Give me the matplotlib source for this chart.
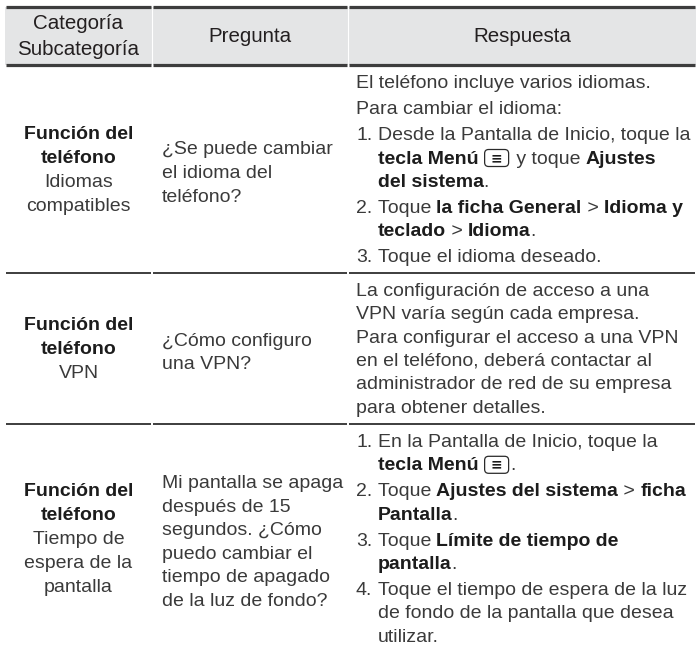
import matplotlib
matplotlib.use("Agg")
import matplotlib.pyplot as plt
from matplotlib.font_manager import FontProperties
from matplotlib.patches import FancyBboxPatch, Rectangle

FONT = "Liberation Sans"
BODY_SIZE = 14.0
HEAD_SIZE = 14.8
TEXT_COLOR = "#3a3a3a"
BOLD_COLOR = "#1c1c1c"
RULE_COLOR = "#3d3d3d"
HEADER_BG = "#e4e5e6"

COL_EDGES = [5, 152, 348, 696]
ROW_EDGES = [7, 65, 273, 424, 652]

HEADER_LABELS = [["Categoría", "Subcategoría"], ["Pregunta"], ["Respuesta"]]

CATEGORY = ["Función del", "teléfono"]
SUBCATEGORIES = [
    ["Idiomas", "compatibles"],
    ["VPN"],
    ["Tiempo de", "espera de la", "pantalla"],
]

QUESTIONS = [
    ["¿Se puede cambiar", "el idioma del", "teléfono?"],
    ["¿Cómo configuro", "una VPN?"],
    ["Mi pantalla se apaga", "después de 15", "segundos. ¿Cómo",
     "puedo cambiar el", "tiempo de apagado", "de la luz de fondo?"],
]

# ** marks bold runs, {menu} is the menu key icon
ANSWERS = [
    [
        (None, ["El teléfono incluye varios idiomas."]),
        (None, ["Para cambiar el idioma:"]),
        ("1.", ["Desde la Pantalla de Inicio, toque la",
                "**tecla Menú** {menu} y toque **Ajustes**",
                "**del sistema**."]),
        ("2.", ["Toque **la ficha General** > **Idioma y**",
                "**teclado** > **Idioma**."]),
        ("3.", ["Toque el idioma deseado."]),
    ],
    [
        (None, ["La configuración de acceso a una",
                "VPN varía según cada empresa.",
                "Para configurar el acceso a una VPN",
                "en el teléfono, deberá contactar al",
                "administrador de red de su empresa",
                "para obtener detalles."]),
    ],
    [
        ("1.", ["En la Pantalla de Inicio, toque la",
                "**tecla Menú** {menu}."]),
        ("2.", ["Toque **Ajustes del sistema** > **ficha**",
                "**Pantalla**."]),
        ("3.", ["Toque **Límite de tiempo de**",
                "**pantalla**."]),
        ("4.", ["Toque el tiempo de espera de la luz",
                "de fondo de la pantalla que desea",
                "utilizar."]),
    ],
]

CELL_LH = 24
ANS_LH = 23.3
PARA_GAP = 2.8

fig = plt.figure(figsize=(6.96, 6.52), dpi=100)
ax = fig.add_axes([0, 0, 1, 1])
ax.set_xlim(0, 696)
ax.set_ylim(652, 0)
ax.axis("off")
renderer = fig.canvas.get_renderer()


def text_width(s, bold=False, size=BODY_SIZE):
    prop = FontProperties(family=FONT, weight="bold" if bold else "normal", size=size)
    w1, _, _ = renderer.get_text_width_height_descent("x" + s + "x", prop, ismath=False)
    w0, _, _ = renderer.get_text_width_height_descent("xx", prop, ismath=False)
    return w1 - w0


def parse(line):
    parts = []
    for i, chunk in enumerate(line.split("**")):
        bold = i % 2 == 1
        for j, piece in enumerate(chunk.split("{menu}")):
            if j > 0:
                parts.append(("{menu}", bold))
            if piece:
                parts.append((piece, bold))
    return parts


def menu_icon(x, y):
    w, h = 24, 17
    ax.add_patch(FancyBboxPatch((x + 1, y - 14), w, h,
                                boxstyle="round,pad=0,rounding_size=4",
                                fc="white", ec="#2a2a2a", lw=0.9))
    ax.text(x + 1 + w / 2, y - 14 + h / 2, "≡", family="DejaVu Sans",
            weight="bold", fontsize=10, ha="center", va="center", color="#1c1c1c")
    return w + 3


def rich_line(x, y, line):
    for seg, bold in parse(line):
        if seg == "{menu}":
            x += menu_icon(x, y)
            continue
        ax.text(x, y, seg, family=FONT, fontsize=BODY_SIZE,
                weight="bold" if bold else "normal",
                color=BOLD_COLOR if bold else TEXT_COLOR,
                ha="left", va="baseline")
        x += text_width(seg, bold)


# header band
ax.add_patch(Rectangle((COL_EDGES[0], ROW_EDGES[0]), COL_EDGES[-1] - COL_EDGES[0],
                       ROW_EDGES[1] - ROW_EDGES[0], fc=HEADER_BG, ec="none"))
for c in range(1, 3):
    ax.vlines(COL_EDGES[c], ROW_EDGES[0], ROW_EDGES[1], color="white", lw=0.8)

# horizontal rules, broken at column edges
for r, y in enumerate(ROW_EDGES[:-1]):
    lw = 2.3 if r < 2 else 1.4
    for c in range(3):
        ax.hlines(y, COL_EDGES[c] + 0.6, COL_EDGES[c + 1] - 0.6, color=RULE_COLOR, lw=lw)

# header labels
for c, labels in enumerate(HEADER_LABELS):
    xc = (COL_EDGES[c] + COL_EDGES[c + 1]) / 2
    mid = (ROW_EDGES[0] + ROW_EDGES[1]) / 2
    y0 = mid - (len(labels) - 1) * 26 / 2 + 6
    for i, lab in enumerate(labels):
        ax.text(xc, y0 + i * 26, lab, family=FONT, fontsize=HEAD_SIZE,
                color="#231f20", ha="center", va="baseline")

for r in range(3):
    top, bottom = ROW_EDGES[r + 1], ROW_EDGES[r + 2]
    mid = (top + bottom) / 2

    # category / subcategory, centred
    lines = [(t, True) for t in CATEGORY] + [(t, False) for t in SUBCATEGORIES[r]]
    xc = (COL_EDGES[0] + COL_EDGES[1]) / 2
    y0 = mid - (len(lines) - 1) * CELL_LH / 2 + 6
    for i, (t, bold) in enumerate(lines):
        ax.text(xc, y0 + i * CELL_LH, t, family=FONT, fontsize=BODY_SIZE,
                weight="bold" if bold else "normal",
                color=BOLD_COLOR if bold else TEXT_COLOR,
                ha="center", va="baseline")

    # question
    q = QUESTIONS[r]
    y0 = mid - (len(q) - 1) * 23.5 / 2 + 9
    for i, t in enumerate(q):
        ax.text(COL_EDGES[1] + 10, y0 + i * 23.5, t, family=FONT, fontsize=BODY_SIZE,
                color=TEXT_COLOR, ha="left", va="baseline")

    # answer
    x0 = COL_EDGES[2] + 8
    indent = text_width("1. ")
    y = top + 23
    for p, (num, plines) in enumerate(ANSWERS[r]):
        if p > 0:
            y += PARA_GAP
        if num:
            ax.text(x0, y, num, family=FONT, fontsize=BODY_SIZE, color=TEXT_COLOR,
                    ha="left", va="baseline")
        for line in plines:
            rich_line(x0 + (indent if num else 0), y, line)
            y += ANS_LH

fig.savefig("out.png", dpi=100, facecolor="white")
